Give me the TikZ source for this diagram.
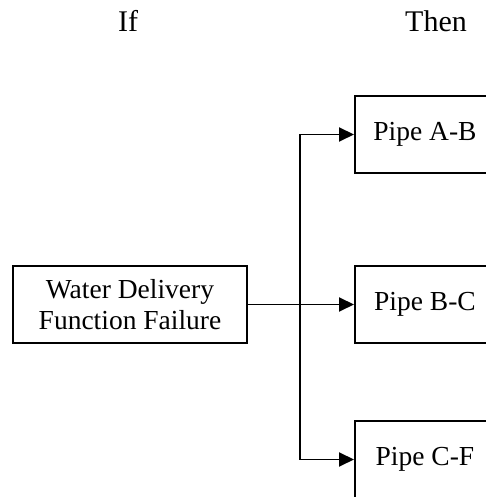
\documentclass[tikz,border=0pt]{standalone}
\usepackage{fontspec}
\setmainfont{Liberation Serif}
\usetikzlibrary{arrows.meta}
\begin{document}
\begin{tikzpicture}[x=1pt,y=1pt,
  pipebox/.style={draw, line width=1.9pt, minimum width=140pt, minimum height=77pt,
    inner sep=0pt, font=\fontsize{27.5}{30}\selectfont, anchor=west},
  srcbox/.style={draw, line width=1.9pt, minimum width=234pt, minimum height=77pt,
    inner sep=0pt, align=center, font=\fontsize{27.5}{31}\selectfont},
  title/.style={font=\fontsize{30}{34}\selectfont, anchor=base},
  conn/.style={line width=1.9pt},
  arr/.style={conn, -{Triangle[length=15pt,width=14pt]}}]
\useasboundingbox (0,0) rectangle (486,497);
\clip (0,0) rectangle (486,497);
\node[title] (if) at (128,465.5) {If};
\node[title] (then) at (436,465.5) {Then};
\node[srcbox] (w) at (130,192.5) {Water Delivery\\Function Failure};
\node[pipebox] (ab) at (354,362.5) {Pipe A-B};
\node[pipebox] (bc) at (354,192.5) {Pipe B-C};
\node[pipebox] (cf) at (354,37.5) {Pipe C-F};
\coordinate (j) at (300,192.5);
\draw[arr] (w.east) -- (bc.west);
\draw[arr] (j) |- (ab.west);
\draw[arr] (j) |- (cf.west);
\end{tikzpicture}
\end{document}
